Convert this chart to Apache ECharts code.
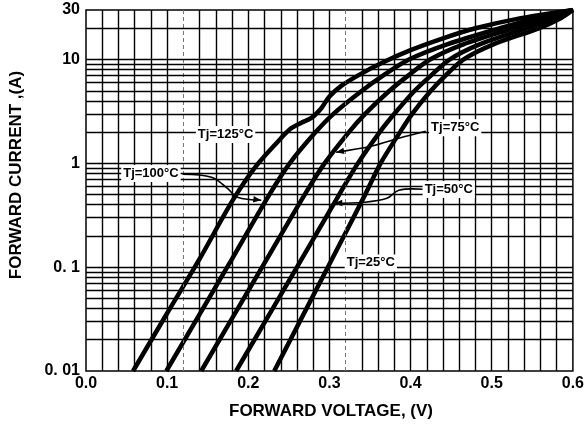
<!DOCTYPE html>
<html><head><meta charset="utf-8">
<script src="https://cdn.jsdelivr.net/npm/echarts@6/dist/echarts.min.js"></script>
<style>html,body{margin:0;padding:0;background:#fff;}#c{width:587px;height:425px;}</style>
</head><body><div id="c"></div>
<script>
// ---- data (forward voltage V, forward current A) ----
const xTickValues = [0, 0.1, 0.2, 0.3, 0.4, 0.5, 0.6];
const yTickLabels = {'0.01': '0. 01', '0.1': '0. 1', '1': '1', '10': '10', '30': '30'};
const seriesNames = ['Tj=125°C', 'Tj=100°C', 'Tj=75°C', 'Tj=50°C', 'Tj=25°C'];
const tj125 = [[0.058,0.01],[0.10,0.036],[0.14,0.12],[0.18,0.43],[0.21,0.95],[0.238,1.67],[0.252,2.15],[0.265,2.45],[0.278,2.75],[0.29,3.4],[0.30,4.4],[0.315,5.6],[0.335,7.0],[0.365,9.3],[0.40,12.3],[0.44,16],[0.48,20],[0.53,24.5],[0.60,30]];
const tj100 = [[0.099,0.01],[0.174,0.1],[0.226,0.5],[0.251,1.0],[0.283,2.0],[0.305,3.0],[0.34,5.0],[0.366,7.0],[0.398,10],[0.445,14],[0.51,20],[0.556,25],[0.60,30]];
const tj75 = [[0.142,0.01],[0.217,0.1],[0.2695,0.5],[0.294,1.0],[0.324,2.0],[0.344,3.0],[0.374,5.0],[0.397,7.0],[0.424,10],[0.465,14],[0.527,20],[0.567,25],[0.60,30]];
const tj50 = [[0.185,0.01],[0.26,0.1],[0.312,0.5],[0.335,1.0],[0.362,2.0],[0.38,3.0],[0.405,5.0],[0.425,7.0],[0.448,10],[0.485,14],[0.543,20],[0.577,25],[0.60,30]];
const tj25 = [[0.232,0.01],[0.298,0.1],[0.344,0.5],[0.363,1.0],[0.387,2.0],[0.402,3.0],[0.425,5.0],[0.443,7.0],[0.465,10],[0.502,14],[0.558,20],[0.585,25],[0.60,30]];
// annotation positions (data coordinates)
const labelPos = [[0.172,1.9],[0.080,0.80],[0.455,2.2],[0.447,0.56],[0.351,0.11]];
const leader100 = [[0.119,0.785],[0.1547,0.735],[0.1743,0.575],[0.1866,0.471],[0.216,0.441]];
const leader75 = [[0.4187,2.04],[0.3855,1.746],[0.3511,1.462],[0.3082,1.28]];
const leader50 = [[0.415,0.563],[0.3855,0.551],[0.3708,0.461],[0.3425,0.422],[0.3060,0.413]];

const curves = [tj125, tj100, tj75, tj50, tj25];
const leaders = [leader100, leader75, leader50];
const vGrid = []; for (let i = 1; i < 30; i++) vGrid.push(+(i * 0.02).toFixed(2));
const dashedV = [0.12, 0.32];
const hGrid = [];
[0.01, 0.1, 1, 10].forEach(d => { for (let k = 1; k <= 9; k++) { const v = +(d * k).toPrecision(2); if (v > 0.01 && v < 30) hGrid.push(v); } });

const FONT = '"Liberation Sans", Arial, sans-serif';
const chart = echarts.init(document.getElementById('c'));
const gridLines = [];
vGrid.forEach(v => {
  const dashed = dashedV.some(d => Math.abs(d - v) < 1e-6);
  gridLines.push({xAxis: v, lineStyle: dashed ? {color: '#777', width: 1, type: [4, 3]} : {color: '#000', width: 1.4, type: 'solid'}});
});
hGrid.forEach(v => gridLines.push({yAxis: v, lineStyle: {color: '#000', width: 1.4, type: 'solid'}}));

const series = [{
  type: 'line', data: [], z: 1, silent: true, showSymbol: false,
  markLine: {silent: true, symbol: 'none', animation: false, label: {show: false}, data: gridLines}
}];
curves.forEach((c, i) => series.push({
  name: seriesNames[i], type: 'line', data: c, smooth: 0.3, symbol: 'none', z: 3,
  lineStyle: {color: '#000', width: 4.5}
}));

chart.setOption({
  animation: false,
  backgroundColor: '#fff',
  grid: {left: 86, right: 12, top: 10, bottom: 54, show: true, borderColor: '#000', borderWidth: 1.5, backgroundColor: 'transparent'},
  xAxis: {
    type: 'value', min: 0, max: 0.6, interval: 0.1,
    axisLine: {show: false}, axisTick: {show: false}, splitLine: {show: false},
    axisLabel: {color: '#000', fontFamily: FONT, fontWeight: 'bold', fontSize: 16, margin: 5,
      formatter: v => v.toFixed(1)}
  },
  yAxis: {
    type: 'log', logBase: 10, min: 0.01, max: 30,
    axisLine: {show: false}, axisTick: {show: false}, splitLine: {show: false},
    axisLabel: {color: '#000', fontFamily: FONT, fontWeight: 'bold', fontSize: 16, margin: 6,
      formatter: v => { const k = String(+(+v).toPrecision(3)); return yTickLabels[k] !== undefined ? yTickLabels[k] : ''; }}
  },
  series: series
});

const g = [];
leaders.forEach(L => {
  const pts = L.map(p => chart.convertToPixel({gridIndex: 0}, p));
  g.push({type: 'polyline', shape: {points: pts, smooth: 0.35}, style: {stroke: '#000', lineWidth: 1.6, fill: null}, z: 50});
  const a = pts[pts.length - 1], b = pts[pts.length - 2];
  const ang = Math.atan2(a[1] - b[1], a[0] - b[0]);
  const len = 8, w = 3.2;
  const bx = a[0] - len * Math.cos(ang), by = a[1] - len * Math.sin(ang);
  const nx = -Math.sin(ang), ny = Math.cos(ang);
  g.push({type: 'polygon', shape: {points: [a, [bx + nx * w, by + ny * w], [bx - nx * w, by - ny * w]]}, style: {fill: '#000'}, z: 51});
});
labelPos.forEach((p, i) => {
  const q = chart.convertToPixel({gridIndex: 0}, p);
  g.push({type: 'text', x: q[0], y: q[1], z: 60,
    style: {text: seriesNames[i], font: 'bold 13px ' + FONT, fill: '#000', align: 'center', verticalAlign: 'middle', backgroundColor: '#fff', padding: [2, 2]}});
});
g.push({type: 'text', x: 16, y: 175, rotation: Math.PI / 2, z: 60,
  style: {text: 'FORWARD CURRENT ,(A)', font: 'bold 17px ' + FONT, fill: '#000', align: 'center', verticalAlign: 'middle'}});
g.push({type: 'text', x: 331, y: 411, z: 60,
  style: {text: 'FORWARD VOLTAGE, (V)', font: 'bold 17px ' + FONT, fill: '#000', align: 'center', verticalAlign: 'middle'}});
chart.setOption({graphic: g});
</script></body></html>
